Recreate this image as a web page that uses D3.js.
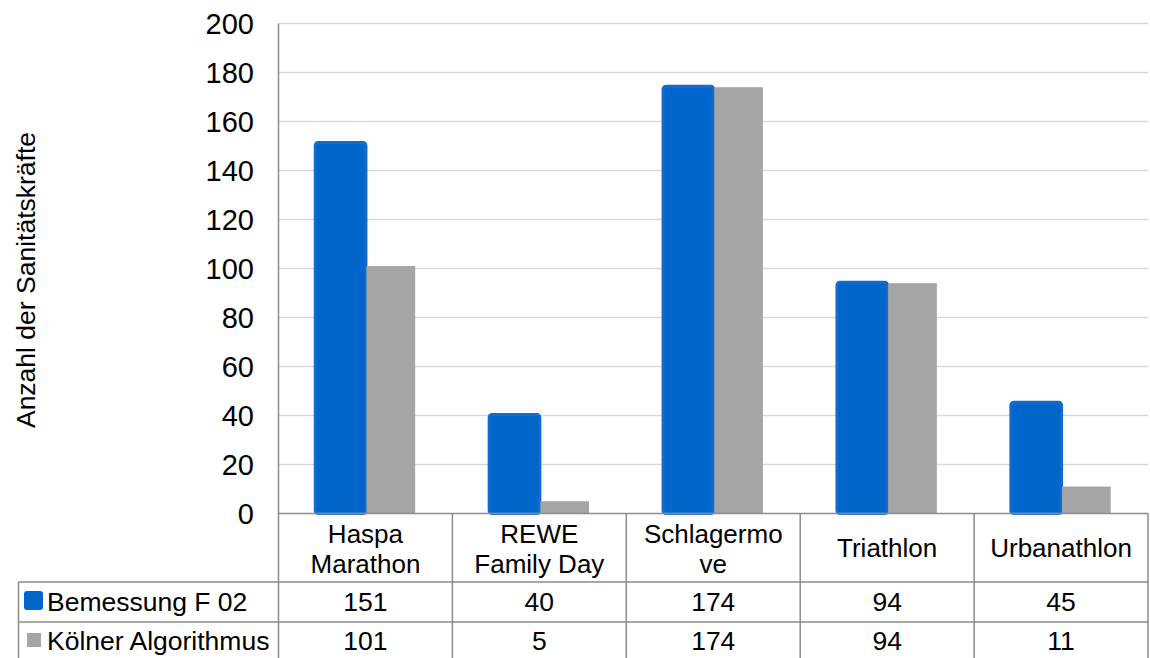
<!DOCTYPE html>
<html>
<head>
<meta charset="utf-8">
<script src="https://cdn.jsdelivr.net/npm/d3@7"></script>
<style>
  html, body { margin: 0; padding: 0; background: #fff; }
  svg { display: block; font-family: "Liberation Sans", Arial, sans-serif; }
</style>
</head>
<body>
<svg id="chart" width="1150" height="658"></svg>
<script>
// Event names (x categories) and their wrapped label lines
const categories = ["Haspa Marathon", "REWE Family Day", "Schlagermove", "Triathlon", "Urbanathlon"];
const categoryLines = [["Haspa", "Marathon"], ["REWE", "Family Day"], ["Schlagermo", "ve"], ["Triathlon"], ["Urbanathlon"]];

// Series
const seriesNames = ["Bemessung F 02", "Kölner Algorithmus"];
const bemessungF02 = [151, 40, 174, 94, 45];
const koelnerAlgorithmus = [101, 5, 174, 94, 11];

// Y axis ticks
const yTicks = [0, 20, 40, 60, 80, 100, 120, 140, 160, 180, 200];
const yTitle = "Anzahl der Sanitätskräfte";

const seriesValues = [bemessungF02, koelnerAlgorithmus];
const colors = ["#0066cc", "#a5a5a5"];

const svg = d3.select("#chart");

// Plot geometry
const plotLeft = 278.5, plotRight = 1148, plotTop = 23.5, plotBase = 513.5;
const tableLeft = 18.5, row1 = 582, row2 = 622, tableBottom = 658;

const y = d3.scaleLinear().domain([0, 200]).range([plotBase, plotTop]);
const x0 = d3.scaleBand().domain(categories).range([plotLeft, plotRight]).padding(0);
const xBar = d3.scaleBand().domain(categories).range([plotLeft + 1, plotRight + 1])
  .paddingInner(0.44).paddingOuter(0.22);
const x1 = d3.scaleBand().domain(seriesNames).range([0, xBar.bandwidth()]);

// Gridlines
svg.append("g")
  .selectAll("line")
  .data(yTicks.filter(d => d > 0))
  .join("line")
  .attr("x1", plotLeft).attr("x2", plotRight)
  .attr("y1", d => y(d)).attr("y2", d => y(d))
  .attr("stroke", "#d9d9d9").attr("stroke-width", 1.5);

// Y axis tick labels
svg.append("g")
  .selectAll("text")
  .data(yTicks)
  .join("text")
  .attr("x", 254)
  .attr("y", d => y(d))
  .attr("dy", "0.36em")
  .attr("text-anchor", "end")
  .attr("font-size", 29)
  .attr("fill", "#000")
  .text(d => d);

// Y axis title
svg.append("text")
  .attr("transform", `translate(35,${280}) rotate(-90)`)
  .attr("text-anchor", "middle")
  .attr("font-size", 26.5)
  .attr("fill", "#000")
  .text(yTitle);

// Bars
const barData = [];
categories.forEach((c, i) => {
  seriesNames.forEach((s, j) => {
    barData.push({ cat: c, series: s, value: seriesValues[j][i], j });
  });
});

const bars = svg.append("g");
// blue series (rounded, with a soft edge)
bars.selectAll("rect.s0")
  .data(barData.filter(d => d.j === 0))
  .join("rect")
  .attr("class", "s0")
  .attr("x", d => xBar(d.cat) + x1(d.series) - 2.5)
  .attr("y", d => y(d.value) - 1)
  .attr("width", x1.bandwidth() + 2)
  .attr("height", d => plotBase - y(d.value) + 1)
  .attr("rx", 3).attr("ry", 3)
  .attr("fill", colors[0])
  .attr("stroke", "#126ccb")
  .attr("stroke-width", 3);
// gray series
bars.selectAll("rect.s1")
  .data(barData.filter(d => d.j === 1))
  .join("rect")
  .attr("class", "s1")
  .attr("x", d => xBar(d.cat) + x1(d.series))
  .attr("y", d => y(d.value))
  .attr("width", x1.bandwidth())
  .attr("height", d => plotBase - y(d.value))
  .attr("fill", colors[1]);

// Axis & table lines
const lineColor = "#8c8c8c";
const g = svg.append("g").attr("stroke", lineColor).attr("stroke-width", 1.5);
// value axis line
g.append("line").attr("x1", plotLeft).attr("x2", plotLeft).attr("y1", plotTop).attr("y2", tableBottom);
// category axis / baseline
g.append("line").attr("x1", plotLeft).attr("x2", plotRight).attr("y1", plotBase).attr("y2", plotBase);
// column separators
g.selectAll("line.col")
  .data(categories)
  .join("line")
  .attr("class", "col")
  .attr("x1", d => x0(d) + x0.bandwidth()).attr("x2", d => x0(d) + x0.bandwidth())
  .attr("y1", plotBase).attr("y2", tableBottom);
// table rows
[row1, row2].forEach(r => {
  g.append("line").attr("x1", tableLeft).attr("x2", plotRight).attr("y1", r).attr("y2", r);
});
g.append("line").attr("x1", tableLeft).attr("x2", tableLeft).attr("y1", row1).attr("y2", tableBottom);

// Category labels
const catG = svg.append("g").attr("font-size", 26).attr("text-anchor", "middle").attr("fill", "#000");
categories.forEach((c, i) => {
  const lines = categoryLines[i];
  const cx = x0(c) + x0.bandwidth() / 2;
  const t = catG.append("text").attr("x", cx);
  const firstBaseline = lines.length === 1 ? 557 : 543;
  lines.forEach((ln, k) => {
    t.append("tspan").attr("x", cx).attr("y", firstBaseline + k * 29.5).text(ln);
  });
});

// Data table values
const rowBaselines = [611, 650];
seriesNames.forEach((s, j) => {
  svg.append("g")
    .selectAll("text")
    .data(categories)
    .join("text")
    .attr("x", d => x0(d) + x0.bandwidth() / 2)
    .attr("y", rowBaselines[j])
    .attr("text-anchor", "middle")
    .attr("font-size", 26.5)
    .attr("fill", "#000")
    .text((d, i) => seriesValues[j][i]);
});

// Legend keys and series names in the table
svg.append("rect").attr("x", 24).attr("y", 591).attr("width", 19).attr("height", 19)
  .attr("rx", 3).attr("fill", colors[0]);
svg.append("rect").attr("x", 27).attr("y", 633).attr("width", 14).attr("height", 14)
  .attr("fill", colors[1]);
svg.append("g")
  .selectAll("text")
  .data(seriesNames)
  .join("text")
  .attr("x", 47)
  .attr("y", (d, j) => rowBaselines[j])
  .attr("font-size", 26.5)
  .attr("fill", "#000")
  .text(d => d);
</script>
</body>
</html>
